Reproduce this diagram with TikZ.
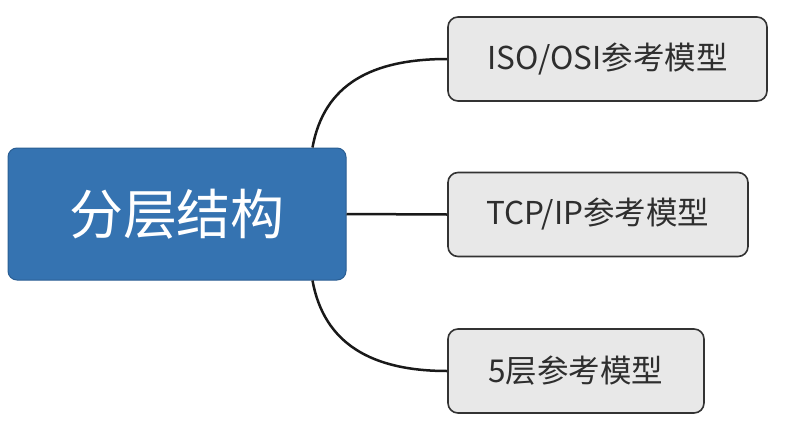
\documentclass[tikz,border=0pt]{standalone}
\usepackage{fontspec}
\newfontfamily\cjk{Noto Sans CJK SC}
\usetikzlibrary{calc}
\definecolor{mainblue}{HTML}{3573B1}
\definecolor{mainborder}{HTML}{2A5E93}
\definecolor{childfill}{HTML}{E8E8E8}
\definecolor{childborder}{HTML}{333333}
\definecolor{childtext}{HTML}{2E2E2E}
\tikzset{
  mainbox/.style={draw=mainborder, line width=1pt, fill=mainblue, rounded corners=9pt,
    minimum width=338pt, minimum height=132pt, inner sep=0pt, text=white,
    font=\cjk\fontsize{54}{60}\selectfont},
  childbox/.style={draw=childborder, line width=1.6pt, fill=childfill, rounded corners=10pt,
    minimum height=84pt, inner sep=0pt, text=childtext,
    font=\cjk\fontsize{31.5}{36}\selectfont},
  link/.style={draw=black!90, line width=2.5pt}
}
\begin{document}
\begin{tikzpicture}[x=1pt,y=-1pt]
\useasboundingbox (0,0) rectangle (788,426);
\fill[white] (0,0) rectangle (788,426);
\node[mainbox] (main) at (177,214) {分层结构};
\node[childbox, minimum width=319pt] (c1) at (607.5,59) {ISO/OSI参考模型};
\node[childbox, minimum width=300pt] (c2) at (598,214.5) {TCP/IP参考模型};
\node[childbox, minimum width=256pt] (c3) at (576,371) {5层参考模型};
\coordinate (ctop) at ([xshift=-34pt]main.north east);
\coordinate (cbot) at ([xshift=-34pt]main.south east);
\draw[link] (main.east) -- (c2.west);
\draw[link] (ctop) .. controls (324,84) and (372,59) .. (c1.west);
\draw[link] (cbot) .. controls (324,344) and (372,371) .. (c3.west);
\end{tikzpicture}
\end{document}
